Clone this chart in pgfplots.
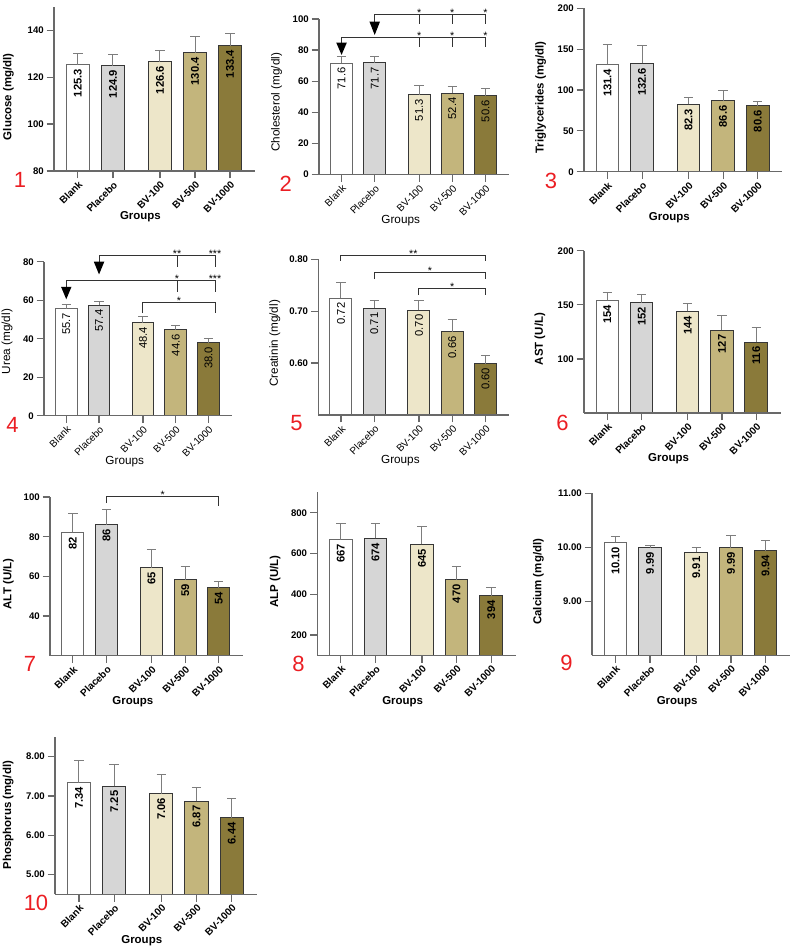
\documentclass[border=0pt]{standalone}
\usepackage{fontspec}
\setmainfont{Liberation Sans}
\usepackage{pgfplots}
\pgfplotsset{compat=1.18}
\definecolor{axgray}{RGB}{105,105,105}
\definecolor{errgray}{RGB}{125,125,125}
\definecolor{edge}{RGB}{55,55,55}
\definecolor{cP}{RGB}{214,214,214}
\definecolor{cA}{RGB}{237,230,201}
\definecolor{cB}{RGB}{195,181,124}
\definecolor{cC}{RGB}{138,122,58}
\definecolor{numred}{RGB}{235,30,35}
\pgfplotsset{
 panel/.style={
   scale only axis, clip mode=individual, axis on top,
   anchor=south west,
   axis lines*=left,
   axis line style={draw=axgray, line width=0.9pt},
   every tick/.style={draw=axgray, line width=0.9pt},
   tick align=outside, major tick length=5.5pt,
   /pgf/number format/assume math mode=true,
   xmin=-0.68, xmax=5.05,
   xtick={0,1,2.34,3.34,4.34},
   xticklabels={Blank,Placebo,BV-100,BV-500,BV-1000},
   xticklabel style={rotate=45, anchor=north east, inner sep=1pt, font=\bfseries\fontsize{7.5}{8}\selectfont},
   yticklabel style={font=\bfseries\fontsize{7.2}{8}\selectfont, inner sep=2pt},
   xlabel={Groups},
   every axis x label/.style={at={(axis description cs:0.43,0)}, yshift=-34.5pt, anchor=center, font=\bfseries\fontsize{8.6}{10}\selectfont},
   every axis y label/.style={rotate=90, anchor=center, font=\bfseries\fontsize{8.6}{10}\selectfont},
   every node near coord/.append style={font=\bfseries\fontsize{8.4}{9}\selectfont},
 },
 regfont/.style={
   xticklabel style={font=\fontsize{7.5}{8}\selectfont},
   every axis x label/.append style={font=\fontsize{8.8}{10}\selectfont},
   every axis y label/.append style={font=\fontsize{8.8}{10}\selectfont},
   every node near coord/.append style={font=\fontsize{8.4}{9}\selectfont},
 },
 yl/.style 2 args={every axis y label/.append style={at={(axis description cs:#1,#2)}}},
 bb/.style={ybar, bar width=0.66, bar shift=0pt, draw=edge, line width=0.75pt,
   error bars/y dir=plus, error bars/y explicit,
   error bars/error bar style={draw=errgray, line width=0.75pt},
   error bars/error mark options={rotate=90, draw=errgray, mark size=3.5pt, line width=0.75pt},
   nodes near coords={#1},
   every node near coord/.append style={rotate=90, anchor=east, inner sep=3pt, text=black}},
 b0/.style={bb=#1, fill=white, draw=edge!75},
 b1/.style={bb=#1, fill=cP},
 b2/.style={bb=#1, fill=cA},
 b3/.style={bb=#1, fill=cB},
 b4/.style={bb=#1, fill=cC},
}
\tikzset{st/.style={anchor=base, yshift=-1.5pt, font=\fontsize{8}{9}\selectfont, inner sep=0pt},
 br/.style={draw=black!80, line width=0.75pt}}
\begin{document}
\begin{tikzpicture}
% ---------- 1 Glucose
\begin{axis}[panel, at={(40.5pt,584.25pt)}, width=150.75pt, height=123.2pt,
  ymin=80, ymax=150, ytick={80,100,120,140}, ylabel={Glucose (mg/dl)}, yl={-0.227}{0.452}]
\addplot[b0=125.3] coordinates {(0,125.3) +- (0,4.8)};
\addplot[b1=124.9] coordinates {(1,124.9) +- (0,4.8)};
\addplot[b2=126.6] coordinates {(2.34,126.6) +- (0,4.6)};
\addplot[b3=130.4] coordinates {(3.34,130.4) +- (0,7.0)};
\addplot[b4=133.4] coordinates {(4.34,133.4) +- (0,5.2)};
\end{axis}
% ---------- 2 Cholesterol
\begin{axis}[panel, regfont, at={(239.25pt,581.5pt)}, width=142.5pt, height=116.8pt,
  ymin=0, ymax=100, ytick={0,20,40,60,80,100}, ylabel={Cholesterol (mg/dl)}, yl={-0.223}{0.464}]
\addplot[b0=71.6] coordinates {(0,71.6) +- (0,4.2)};
\addplot[b1=71.7] coordinates {(1,71.7) +- (0,3.9)};
\addplot[b2=51.3] coordinates {(2.34,51.3) +- (0,5.9)};
\addplot[b3=52.4] coordinates {(3.34,52.4) +- (0,4.4)};
\addplot[b4=50.6] coordinates {(4.34,50.6) +- (0,4.9)};
\draw[br] (axis cs:1,98.3) |- (axis cs:4.34,103) -- (axis cs:4.34,96.6);
\draw[br] (axis cs:2.34,103) -- (axis cs:2.34,96.6);
\draw[br] (axis cs:3.34,103) -- (axis cs:3.34,96.6);
\fill (axis cs:0.84,98.3) -- (axis cs:1.16,98.3) -- (axis cs:1,89.7) -- cycle;
\draw[br] (axis cs:0,84.8) |- (axis cs:4.34,88) -- (axis cs:4.34,82.2);
\draw[br] (axis cs:2.34,88) -- (axis cs:2.34,82.2);
\draw[br] (axis cs:3.34,88) -- (axis cs:3.34,82.2);
\fill (axis cs:-0.16,84.8) -- (axis cs:0.16,84.8) -- (axis cs:0,76.9) -- cycle;
\node[st] at (axis cs:2.34,103) {*};
\node[st] at (axis cs:3.34,103) {*};
\node[st] at (axis cs:4.34,103) {*};
\node[st] at (axis cs:2.34,88) {*};
\node[st] at (axis cs:3.34,88) {*};
\node[st] at (axis cs:4.34,88) {*};
\end{axis}
% ---------- 3 Triglycerides
\begin{axis}[panel, at={(438pt,583.7pt)}, width=148.7pt, height=122.6pt,
  ymin=0, ymax=200, ytick={0,50,100,150,200}, ylabel={Triglycerides (mg/dl)}, yl={-0.218}{0.454}]
\addplot[b0=131.4] coordinates {(0,131.4) +- (0,24.7)};
\addplot[b1=132.6] coordinates {(1,132.6) +- (0,21.5)};
\addplot[b2=82.3] coordinates {(2.34,82.3) +- (0,8.3)};
\addplot[b3=86.6] coordinates {(3.34,86.6) +- (0,13.0)};
\addplot[b4=80.6] coordinates {(4.34,80.6) +- (0,5.5)};
\end{axis}
% ---------- 4 Urea
\begin{axis}[panel, regfont, at={(33pt,400.7pt)}, width=140.8pt, height=115.5pt,
  ymin=0, ymax=80, ytick={0,20,40,60,80}, ylabel={Urea (mg/dl)}, yl={-0.196}{0.481}]
\addplot[b0=55.7] coordinates {(0,55.7) +- (0,2.2)};
\addplot[b1=57.4] coordinates {(1,57.4) +- (0,1.8)};
\addplot[b2=48.4] coordinates {(2.34,48.4) +- (0,3.0)};
\addplot[b3=44.6] coordinates {(3.34,44.6) +- (0,2.5)};
\addplot[b4=38.0] coordinates {(4.34,38.0) +- (0,2.0)};
\draw[br] (axis cs:1,80) |- (axis cs:4.54,83.1) -- (axis cs:4.54,77.4);
\draw[br] (axis cs:3.38,83.1) -- (axis cs:3.38,77.4);
\fill (axis cs:0.84,80) -- (axis cs:1.16,80) -- (axis cs:1,73.4) -- cycle;
\node[st] at (axis cs:3.38,83.1) {**};
\node[st] at (axis cs:4.54,83.1) {***};
\draw[br] (axis cs:0,67) |- (axis cs:4.54,70.1) -- (axis cs:4.54,64.4);
\draw[br] (axis cs:3.38,70.1) -- (axis cs:3.38,64.4);
\fill (axis cs:-0.16,67) -- (axis cs:0.16,67) -- (axis cs:0,60.5) -- cycle;
\node[st] at (axis cs:3.38,70.1) {*};
\node[st] at (axis cs:4.54,70.1) {***};
\draw[br] (axis cs:2.34,53.3) |- (axis cs:4.54,58.7) -- (axis cs:4.54,53.3);
\node[st] at (axis cs:3.44,58.7) {*};
\end{axis}
% ---------- 5 Creatinin
\begin{axis}[panel, regfont, at={(238.7pt,401.25pt)}, width=143.25pt, height=116.8pt,
  ymin=0.5, ymax=0.8, ytick={0.6,0.7,0.8}, yticklabels={0.60,0.70,0.80}, ylabel={Creatinin (mg/dl)}, yl={-0.227}{0.46}]
\addplot[b0=0.72] coordinates {(0,0.725) +- (0,0.0295)};
\addplot[b1=0.71] coordinates {(1,0.706) +- (0,0.0145)};
\addplot[b2=0.70] coordinates {(2.34,0.702) +- (0,0.0185)};
\addplot[b3=0.66] coordinates {(3.34,0.660) +- (0,0.024)};
\addplot[b4=0.60] coordinates {(4.34,0.599) +- (0,0.0164)};
\draw[br] (axis cs:0,0.797) |- (axis cs:4.34,0.808) -- (axis cs:4.34,0.797);
\node[st] at (axis cs:2.17,0.808) {**};
\draw[br] (axis cs:1,0.7615) |- (axis cs:4.34,0.774) -- (axis cs:4.34,0.7615);
\node[st] at (axis cs:2.67,0.774) {*};
\draw[br] (axis cs:2.34,0.731) |- (axis cs:4.34,0.744) -- (axis cs:4.34,0.731);
\node[st] at (axis cs:3.34,0.744) {*};
\end{axis}
% ---------- 6 AST
\begin{axis}[panel, at={(438pt,402.75pt)}, width=147.5pt, height=121.7pt,
  ymin=50, ymax=200, ytick={100,150,200}, ylabel={AST (U/L)}, yl={-0.224}{0.456}]
\addplot[b0=154] coordinates {(0,154) +- (0,7.8)};
\addplot[b1=152] coordinates {(1,152) +- (0,7.9)};
\addplot[b2=144] coordinates {(2.34,144) +- (0,7.6)};
\addplot[b3=127] coordinates {(3.34,126.6) +- (0,13.5)};
\addplot[b4=116] coordinates {(4.34,115.5) +- (0,13.7)};
\end{axis}
% ---------- 7 ALT
\begin{axis}[panel, at={(37.5pt,220.7pt)}, width=144.5pt, height=119pt,
  ymin=20, ymax=100, ytick={40,60,80,100}, ylabel={ALT (U/L)}, yl={-0.216}{0.452}]
\addplot[b0=82] coordinates {(0,82.2) +- (0,9.4)};
\addplot[b1=86] coordinates {(1,86.0) +- (0,7.8)};
\addplot[b2=65] coordinates {(2.34,64.4) +- (0,9.2)};
\addplot[b3=59] coordinates {(3.34,58.3) +- (0,6.7)};
\addplot[b4=54] coordinates {(4.34,54.3) +- (0,3.2)};
\draw[br] (axis cs:1,96.9) |- (axis cs:4.34,100.5) -- (axis cs:4.34,95.5);
\node[st] at (axis cs:2.67,100.5) {*};
\end{axis}
% ---------- 8 ALP
\begin{axis}[panel, at={(238pt,221pt)}, width=148.8pt, height=122.25pt,
  ymin=100, ymax=900, ytick={200,400,600,800}, ylabel={ALP (U/L)}, yl={-0.213}{0.452}]
\addplot[b0=667] coordinates {(0,667) +- (0,79)};
\addplot[b1=674] coordinates {(1,674) +- (0,75)};
\addplot[b2=645] coordinates {(2.34,645) +- (0,86)};
\addplot[b3=470] coordinates {(3.34,470) +- (0,68)};
\addplot[b4=394] coordinates {(4.34,392) +- (0,43)};
\end{axis}
% ---------- 9 Calcium
\begin{axis}[panel, at={(444pt,221pt)}, width=148.5pt, height=121.5pt,
  ymin=8, ymax=11, ytick={9,10,11}, yticklabels={9.00,10.00,11.00}, ylabel={Calcium (mg/dl)}, yl={-0.271}{0.454}]
\addplot[b0=10.10] coordinates {(0,10.09) +- (0,0.105)};
\addplot[b1=9.99] coordinates {(1,9.99) +- (0,0.035)};
\addplot[b2=9.91] coordinates {(2.34,9.91) +- (0,0.085)};
\addplot[b3=9.99] coordinates {(3.34,9.99) +- (0,0.22)};
\addplot[b4=9.94] coordinates {(4.34,9.94) +- (0,0.195)};
\end{axis}
% ---------- 10 Phosphorus
\begin{axis}[panel, at={(41.25pt,41.8pt)}, width=151.3pt, height=118pt,
  ymin=4.5, ymax=8.5, ytick={5,6,7,8}, yticklabels={5.00,6.00,7.00,8.00}, ylabel={Phosphorus (mg/dl)}, yl={-0.232}{0.504}]
\addplot[b0=7.34] coordinates {(0,7.34) +- (0,0.56)};
\addplot[b1=7.25] coordinates {(1,7.25) +- (0,0.54)};
\addplot[b2=7.06] coordinates {(2.34,7.06) +- (0,0.49)};
\addplot[b3=6.87] coordinates {(3.34,6.87) +- (0,0.34)};
\addplot[b4=6.44] coordinates {(4.34,6.44) +- (0,0.49)};
\end{axis}
% ---------- panel numbers
\begin{scope}[every node/.style={text=numred, font=\fontsize{16.5}{18}\selectfont, inner sep=0pt, anchor=center}]
\node at (15pt,577.5pt) {1};
\node at (214.35pt,575pt) {2};
\node at (413.25pt,577.1pt) {3};
\node at (9.4pt,394.1pt) {4};
\node at (222.4pt,395.25pt) {5};
\node at (421.9pt,395.6pt) {6};
\node at (22.5pt,214.9pt) {7};
\node at (223.9pt,214.9pt) {8};
\node at (424.9pt,215.6pt) {9};
\node at (27pt,35.6pt) {10};
\end{scope}
\pgfresetboundingbox
\path[use as bounding box] (0pt,0pt) rectangle (597.75pt,712.5pt);
\end{tikzpicture}
\end{document}
